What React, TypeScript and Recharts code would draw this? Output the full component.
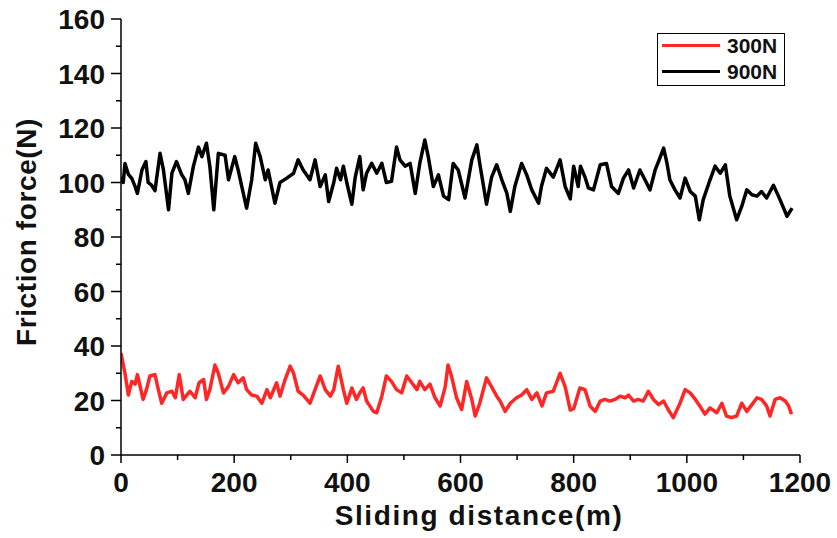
import React from 'react';
import { LineChart, Line, XAxis, YAxis } from 'recharts';

// Sliding distance (m) and friction force (N), 900 N load
const dist900 = [
  0, 4, 7, 13, 19, 25, 29, 37, 44, 48,
  54, 60, 69, 75, 84, 90, 98, 107, 113, 119,
  128, 137, 143, 151, 157, 164, 172, 184, 190, 201,
  207, 214, 222, 231, 238, 246, 255, 260, 272, 281,
  293, 305, 313, 322, 334, 343, 352, 361, 367, 376,
  381, 388, 393, 399, 408, 414, 422, 428, 434, 443,
  452, 461, 469, 478, 487, 493, 502, 511, 520, 528,
  537, 543, 552, 561, 570, 579, 587, 596, 608, 620,
  629, 634, 646, 655, 664, 673, 682, 688, 696, 708,
  717, 726, 738, 743, 752, 764, 776, 785, 794, 800,
  808, 812, 820, 826, 835, 847, 858, 867, 879, 888,
  897, 906, 917, 926, 935, 944, 950, 959, 965, 970,
  979, 988, 997, 1006, 1015, 1022, 1029, 1041, 1050, 1059,
  1068, 1076, 1088, 1097, 1106, 1115, 1124, 1132, 1141, 1153,
  1162, 1171, 1177, 1186,
];
const force900 = [
  102, 100, 107, 103, 101.5, 98.5, 96, 104.6, 107.7, 100,
  99, 97, 110.7, 104.6, 90, 103.4, 107.7, 103, 101, 96,
  106, 113, 109.5, 114.4, 106, 90, 110.7, 110, 101, 109.5,
  104.6, 98, 90.6, 101, 114.4, 109.5, 101, 104.6, 92.4, 100,
  101.6, 103.4, 108.3, 104.6, 101, 108.3, 98.5, 102.8, 93, 100,
  105.2, 101, 106, 100, 92, 102, 109.5, 97.3, 103.4, 107,
  103.4, 107, 100, 100.4, 113, 108.3, 106, 107, 96, 107,
  115.6, 109.5, 98.5, 102.8, 95, 93.7, 107, 104.6, 94.3, 108.3,
  113.8, 107, 92, 102, 106.5, 101, 96, 89.4, 98.5, 107,
  102.8, 97.3, 92.4, 98.5, 105.2, 102, 108.3, 98.5, 94, 106,
  98.5, 106, 102, 98, 97.3, 106.5, 107, 98.5, 96, 101.6,
  104.6, 98, 104.6, 101, 97.3, 104.6, 107.7, 112.6, 107, 101,
  97.3, 94.3, 101.6, 96.7, 95, 86.3, 93.7, 101, 106, 103.4,
  106.5, 95, 86.3, 91.2, 97.3, 95.5, 95, 96.7, 94.3, 99,
  95, 90.6, 87.6, 90.6,
];

// 300 N load
const dist300 = [
  0, 7, 13, 19, 25, 29, 34, 39, 45, 51,
  60, 66, 72, 81, 90, 96, 103, 110, 122, 131,
  138, 146, 151, 157, 166, 172, 181, 190, 199, 207,
  216, 222, 231, 240, 249, 258, 264, 275, 281, 290,
  299, 305, 313, 322, 334, 343, 352, 361, 370, 376,
  384, 393, 399, 408, 416, 422, 428, 434, 446, 452,
  461, 469, 478, 487, 496, 505, 514, 523, 528, 537,
  546, 555, 564, 573, 578, 584, 593, 602, 611, 620,
  626, 634, 646, 655, 664, 670, 679, 688, 699, 708,
  717, 726, 735, 744, 752, 764, 776, 785, 794, 800,
  811, 820, 829, 838, 847, 855, 864, 873, 882, 891,
  897, 906, 914, 923, 932, 941, 950, 959, 967, 976,
  988, 997, 1006, 1015, 1023, 1032, 1041, 1053, 1062, 1070,
  1079, 1088, 1097, 1106, 1115, 1124, 1132, 1141, 1147, 1156,
  1165, 1174, 1180, 1185,
];
const force300 = [
  37.4, 30, 22, 27, 26, 29.5, 25, 20.4, 24, 29,
  29.5, 24, 19, 22.8, 23.4, 21, 29.5, 20.4, 23.4, 21,
  26.5, 27.7, 20.4, 24, 33, 30, 22.8, 25.2, 29.5, 26.5,
  28.3, 24, 22, 21.6, 19, 24, 21, 26.5, 21.6, 27.7,
  32.6, 30, 23.4, 22, 19, 24, 29, 24, 21.6, 24,
  32.6, 24, 19, 24.6, 20.4, 22.8, 24.6, 19.8, 16, 15.5,
  21.6, 29, 27, 24, 22.8, 29, 26.5, 24, 27, 24,
  26, 21, 18, 25, 33, 29, 21, 16.7, 27, 20.4,
  14.3, 19, 28.3, 25, 21.6, 19.8, 16, 19, 21, 22,
  24, 20.4, 22.8, 18, 22.8, 23.4, 30, 25, 16.5, 17,
  24.6, 24, 18, 16, 19.8, 20.4, 19.8, 20.4, 21.6, 21,
  22, 19.8, 20.4, 19.8, 23.4, 20.4, 18.5, 19.8, 16.7, 13.7,
  19, 24, 22.8, 20.4, 18, 15, 17.3, 15.5, 19, 14.3,
  13.7, 14.3, 19, 16, 18.5, 21, 20.4, 18, 14.3, 20.4,
  21, 19.8, 18, 15,
];

const xTicks = [0, 100, 200, 300, 400, 500, 600, 700, 800, 900, 1000, 1100, 1200];
const yTicks = [0, 10, 20, 30, 40, 50, 60, 70, 80, 90, 100, 110, 120, 130, 140, 150, 160];
const seriesNames = ['300N', '900N'];
const xTitle = 'Sliding distance(m)';
const yTitle = 'Friction force(N)';

const data900 = dist900.map((d, i) => ({ d, f: force900[i] }));
const data300 = dist300.map((d, i) => ({ d, f: force300[i] }));

const FONT = '"Liberation Sans", Arial, Helvetica, sans-serif';
const TXT = '#111';
const RED = '#ff2626';

function BottomTick(props: any) {
  const { x, y, payload } = props;
  const v = payload.value;
  const major = v % 200 === 0;
  return (
    <g>
      <line x1={x} y1={y} x2={x} y2={y + (major ? 8 : 5)} stroke="#000" strokeWidth={1.5} />
      {major && (
        <text x={x} y={y + 37} textAnchor="middle" fontFamily={FONT} fontWeight="bold" fontSize={28} fill={TXT}>
          {v}
        </text>
      )}
    </g>
  );
}

function TopTick(props: any) {
  const { x, y, payload } = props;
  const major = payload.value % 200 === 0;
  return <line x1={x} y1={y} x2={x} y2={y + (major ? 8 : 5)} stroke="#000" strokeWidth={1.5} />;
}

function LeftTick(props: any) {
  const { x, y, payload } = props;
  const v = payload.value;
  const major = v % 20 === 0;
  return (
    <g>
      <line x1={x - (major ? 10 : 5)} y1={y} x2={x} y2={y} stroke="#000" strokeWidth={1.5} />
      {major && (
        <text x={x - 16} y={y} dy="0.36em" textAnchor="end" fontFamily={FONT} fontWeight="bold" fontSize={28} fill={TXT}>
          {v}
        </text>
      )}
    </g>
  );
}

function RightTick(props: any) {
  const { x, y, payload } = props;
  const major = payload.value % 20 === 0;
  return <line x1={x} y1={y} x2={x - (major ? 8 : 5)} y2={y} stroke="#000" strokeWidth={1.5} />;
}

function XTitle() {
  return (
    <text x={479} y={525} textAnchor="middle" fontFamily={FONT} fontWeight="bold" fontSize={28} letterSpacing={1.6} fill={TXT}>
      {xTitle}
    </text>
  );
}

function YTitle() {
  return (
    <text transform="translate(26,232) rotate(-90)" x={0} y={0} dy="0.36em" textAnchor="middle" fontFamily={FONT} fontWeight="bold" fontSize={28} letterSpacing={0.6} fill={TXT}>
      {yTitle}
    </text>
  );
}

const axisLine = { stroke: '#000', strokeWidth: 1.5 };

export default function App() {
  return (
    <div style={{ position: 'absolute', left: 0, top: 0, width: 837, height: 538, background: '#fff' }}>
      <LineChart width={837} height={538} margin={{ top: 19, right: 37, bottom: 0, left: 0 }}>
        <XAxis
          xAxisId="bottom"
          type="number"
          dataKey="d"
          domain={[0, 1200]}
          allowDataOverflow
          ticks={xTicks}
          interval={0}
          height={83}
          tickLine={false}
          tickSize={0}
          tickMargin={0}
          axisLine={axisLine}
          tick={(p: any) => <BottomTick {...p} />}
          label={<XTitle />}
        />
        <XAxis
          xAxisId="top"
          orientation="top"
          type="number"
          domain={[0, 1200]}
          allowDataOverflow
          ticks={xTicks}
          interval={0}
          height={0}
          tickLine={false}
          tickSize={0}
          tickMargin={0}
          axisLine={axisLine}
          tick={(p: any) => <TopTick {...p} />}
        />
        <YAxis
          yAxisId="left"
          type="number"
          domain={[0, 160]}
          allowDataOverflow
          ticks={yTicks}
          interval={0}
          width={121}
          tickLine={false}
          tickSize={0}
          tickMargin={0}
          axisLine={axisLine}
          tick={(p: any) => <LeftTick {...p} />}
          label={<YTitle />}
        />
        <YAxis
          yAxisId="right"
          orientation="right"
          type="number"
          domain={[0, 160]}
          allowDataOverflow
          ticks={yTicks}
          interval={0}
          width={0}
          tickLine={false}
          tickSize={0}
          tickMargin={0}
          axisLine={axisLine}
          tick={(p: any) => <RightTick {...p} />}
        />
        <Line
          xAxisId="bottom"
          yAxisId="left"
          data={data900}
          dataKey="f"
          name={seriesNames[1]}
          type="linear"
          stroke="#000"
          strokeWidth={3.5}
          strokeLinejoin="round"
          dot={false}
          activeDot={false}
          isAnimationActive={false}
        />
        <Line
          xAxisId="bottom"
          yAxisId="left"
          data={data300}
          dataKey="f"
          name={seriesNames[0]}
          type="linear"
          stroke={RED}
          strokeWidth={3.5}
          strokeLinejoin="round"
          dot={false}
          activeDot={false}
          isAnimationActive={false}
        />
      </LineChart>
      <div
        style={{
          position: 'absolute',
          left: 657,
          top: 33,
          width: 128,
          height: 53,
          boxSizing: 'border-box',
          border: '1.5px solid #000',
          background: '#fff',
        }}
      >
        <svg width={126} height={50} style={{ display: 'block' }}>
          <line x1={4} y1={11.5} x2={62} y2={11.5} stroke={RED} strokeWidth={3} />
          <text x={69} y={11.5} dy="0.36em" fontFamily={FONT} fontWeight="bold" fontSize={21} fill={TXT}>
            {seriesNames[0]}
          </text>
          <line x1={4} y1={37.5} x2={62} y2={37.5} stroke="#000" strokeWidth={3} />
          <text x={69} y={37.5} dy="0.36em" fontFamily={FONT} fontWeight="bold" fontSize={21} fill={TXT}>
            {seriesNames[1]}
          </text>
        </svg>
      </div>
    </div>
  );
}
